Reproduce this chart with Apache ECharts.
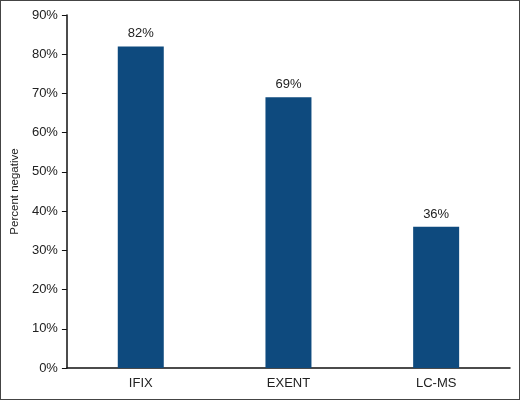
<!DOCTYPE html>
<html lang="en">
<head>
    <meta charset="UTF-8">
    <title>Percent negative</title>
</head>
<style>
    html, body{
        margin: 0;
        padding: 0;
        background-color: #fff;
    }
    .box{
        width: 520px;
        height: 400px;
        box-sizing: border-box;
        border: 1px solid #444;
    }
    .main{
        width: 100%;
        height: 100%;
    }
</style>
<body>
<div class="box">
    <div id="main" class="main"></div>
</div>
<script src="https://cdn.jsdelivr.net/npm/echarts@6/dist/echarts.min.js"></script>
<script>
    var categories = ['IFIX', 'EXENT', 'LC-MS'];
    var values = [82, 69, 36];

    var app = echarts.init(document.getElementById('main'));

    var option = {
        animation: false,
        textStyle: {
            fontFamily: 'Liberation Sans, Arial, sans-serif'
        },
        grid: {
            left: 64,
            right: 9,
            top: 14,
            bottom: 31
        },
        xAxis: {
            type: 'category',
            data: categories,
            axisLine: {lineStyle: {color: '#111', width: 1.5}},
            axisTick: {alignWithLabel: true, length: 5, lineStyle: {color: '#111'}},
            axisLabel: {color: '#222', fontSize: 13, margin: 9}
        },
        yAxis: {
            type: 'value',
            min: 0,
            max: 90,
            interval: 10,
            name: 'Percent negative',
            nameLocation: 'middle',
            nameGap: 43,
            nameTextStyle: {color: '#222', fontSize: 11.5, fontFamily: 'Liberation Sans Narrow, Liberation Sans, sans-serif'},
            axisLine: {show: true, lineStyle: {color: '#111', width: 1.5}},
            axisTick: {show: true, length: 5, lineStyle: {color: '#111'}},
            axisLabel: {color: '#222', fontSize: 13, margin: 9, formatter: '{value}%'},
            splitLine: {show: false}
        },
        series: [
            {
                type: 'bar',
                data: values,
                barWidth: 46,
                itemStyle: {color: '#0e4a7e'},
                label: {
                    show: true,
                    position: 'top',
                    distance: 6,
                    color: '#222',
                    fontSize: 13,
                    formatter: '{c}%'
                }
            }
        ]
    };
    app.setOption(option);
</script>
</body>
</html>
